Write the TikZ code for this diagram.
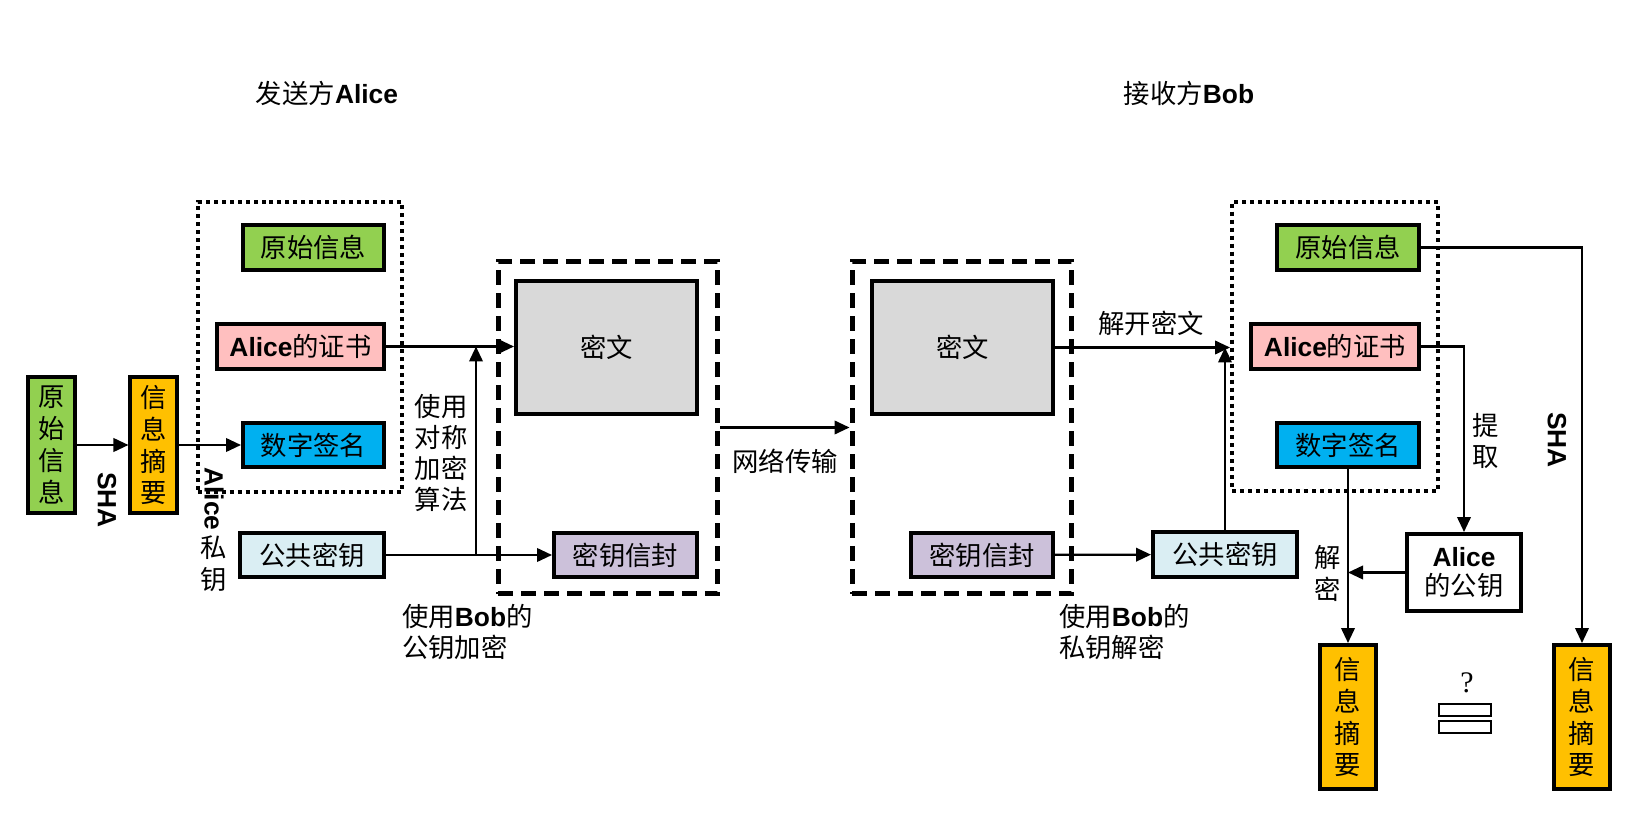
\documentclass[tikz,border=0pt]{standalone}
\usepackage{fontspec}
\setmainfont{Noto Sans CJK SC}
\newfontfamily\latinfont{Liberation Sans}
\newfontfamily\qmarkfont{Liberation Serif}
\usepackage{xcolor}
\usetikzlibrary{arrows.meta, positioning}

\definecolor{leafgreen}{HTML}{92D050}
\definecolor{digestgold}{HTML}{FFC000}
\definecolor{certpink}{HTML}{FFBFBF}
\definecolor{signblue}{HTML}{00B0F0}
\definecolor{keyblue}{HTML}{DAEEF3}
\definecolor{envpurple}{HTML}{CCC1DA}
\definecolor{cipgray}{HTML}{D9D9D9}

\newcommand{\bname}[1]{{\latinfont\bfseries #1}}

\begin{document}
\begin{tikzpicture}[
    x=0.02cm, y=-0.02cm,
    font=\fontsize{15}{18.2}\selectfont,
    box/.style={draw, line width=0.08cm, minimum height=0.9cm, inner sep=0pt, align=center},
    vbox/.style={draw, line width=0.08cm, minimum width=0.96cm, minimum height=2.72cm, inner sep=0pt, align=center},
    dotbox/.style={draw, line width=0.08cm, dash pattern=on 0.08cm off 0.08cm, minimum width=4.1cm, minimum height=5.8cm},
    bag/.style={draw, line width=0.1cm, dash pattern=on 0.3cm off 0.16cm, minimum width=4.4cm, minimum height=6.66cm},
    flow/.style={->, line width=0.045cm},
    vlbl/.style={align=center, font=\fontsize{15}{18.2}\selectfont},
    >={Triangle[length=0.3cm, width=0.27cm]}]
  \useasboundingbox (0,0) rectangle (1627,824);

  % titles
  \node (sendtitle) at (327,93) {发送方\bname{Alice}};
  \node (recvtitle) at (1189,93) {接收方\bname{Bob}};

  % sender
  \node[dotbox] (dotL) at (300,347) {};
  \node[bag] (bagL) at (608,427.5) {};
  \node[vbox, fill=leafgreen] (src) at (51.5,445) {原\\始\\信\\息};
  \node[vbox, fill=digestgold, minimum width=0.94cm, right=1.02cm of src] (dig1) {信\\息\\摘\\要};
  \node[box, fill=leafgreen, minimum width=2.82cm] (orig1) at (313.5,247.5) {原始信息};
  \node[box, fill=certpink, minimum width=3.34cm] (cert1) at (300.5,346.5) {\bname{Alice}的证书};
  \node[box, fill=signblue, minimum width=2.82cm] (sig1) at (313.5,445) {数字签名};
  \node[box, fill=keyblue, minimum width=2.88cm] (key1) at (312,555) {公共密钥};
  \node[box, fill=cipgray, minimum width=3.62cm, minimum height=2.66cm] (ct1) at (606.5,347.5) {密文};
  \node[box, fill=envpurple, minimum width=2.86cm] (env1) at (625.5,555) {密钥信封};
  \coordinate (mix1) at (476,555);

  \node[font=\latinfont\bfseries\fontsize{15}{18}\selectfont, rotate=-90] (sha1) at (107,500) {SHA};
  \node[font=\latinfont\bfseries\fontsize{15}{18}\selectfont, rotate=-90] (alicepriv) at (214,499) {Alice};
  \node[vlbl] (privkey) at (214,564) {私\\钥};
  \node[vlbl, font=\fontsize{15}{17.6}\selectfont] (symalg) at (441,453) {使用\\对称\\加密\\算法};
  \node[anchor=west, align=left, font=\fontsize{15}{17.5}\selectfont] (bobpubenc) at (396,632) {使用\bname{Bob}的\\公钥加密};

  \draw[flow] (src) -- (dig1);
  \draw[flow] (dig1) -- (sig1);
  \draw[flow] (cert1.east) -- (ct1.west |- cert1.east);
  \draw[flow] (key1) -- (env1);
  \draw[flow] (mix1) -- (mix1 |- cert1.east);

  % network
  \node[bag] (bagR) at (962,427.5) {};
  \draw[flow] (bagL.east) -- node[below=0.3cm] (nettext) {网络传输} (bagR.west);

  % receiver
  \node[dotbox, minimum width=4.12cm] (dotR) at (1335,346.5) {};
  \node[box, fill=cipgray, minimum width=3.62cm, minimum height=2.66cm] (ct2) at (962.5,347.5) {密文};
  \node[box, fill=envpurple, minimum width=2.84cm] (env2) at (982,555) {密钥信封};
  \node[box, fill=keyblue, minimum width=2.88cm] (key2) at (1225,554.5) {公共密钥};
  \node[box, fill=leafgreen, minimum width=2.84cm] (orig2) at (1348,247.5) {原始信息};
  \node[box, fill=certpink, minimum width=3.36cm] (cert2) at (1335,346.5) {\bname{Alice}的证书};
  \node[box, fill=signblue, minimum width=2.84cm] (sig2) at (1348,445) {数字签名};
  \node[box, fill=white, minimum width=2.28cm, minimum height=1.54cm, font=\fontsize{15}{16.5}\selectfont] (alicepub) at (1464,572.5) {\bname{Alice}\\的公钥};
  \node[vbox, fill=digestgold, minimum width=1.12cm, minimum height=2.88cm] (dig2) at (1348,717) {信\\息\\摘\\要};
  \node[vbox, fill=digestgold, minimum width=1.12cm, minimum height=2.88cm] (dig3) at (1582,717) {信\\息\\摘\\要};

  \node[anchor=west, align=left, font=\fontsize{15}{17.5}\selectfont] (bobprivdec) at (1053,632) {使用\bname{Bob}的\\私钥解密};
  \node[vlbl] (extract) at (1486,441) {提\\取};
  \node[vlbl] (decrypt) at (1328,573) {解\\密};
  \node[font=\latinfont\bfseries\fontsize{15}{18}\selectfont, rotate=-90] (sha2) at (1557,440) {SHA};

  \draw[flow] (ct2.east) -- node[above=0.1cm, pos=0.55] (opentext) {解开密文} (ct2.east -| dotR.west);
  \draw[flow] (env2) -- (key2);
  \draw[flow] (key2.north) -- (key2.north |- ct2.east);
  \draw[flow] (orig2.east) -| (dig3.north);
  \draw[flow] (cert2.east) -| (alicepub.north);
  \draw[flow] (sig2.south) -- (dig2.north);
  \draw[flow] (alicepub.west) -- (alicepub.west -| sig2.south);

  % compare
  \node[font=\qmarkfont\fontsize{17}{17}\selectfont] (query) at (1467,683) {?};
  \draw[line width=0.035cm, fill=white] (1439,704) rectangle (1491,716);
  \draw[line width=0.035cm, fill=white] (1439,721) rectangle (1491,733);
\end{tikzpicture}
\end{document}
